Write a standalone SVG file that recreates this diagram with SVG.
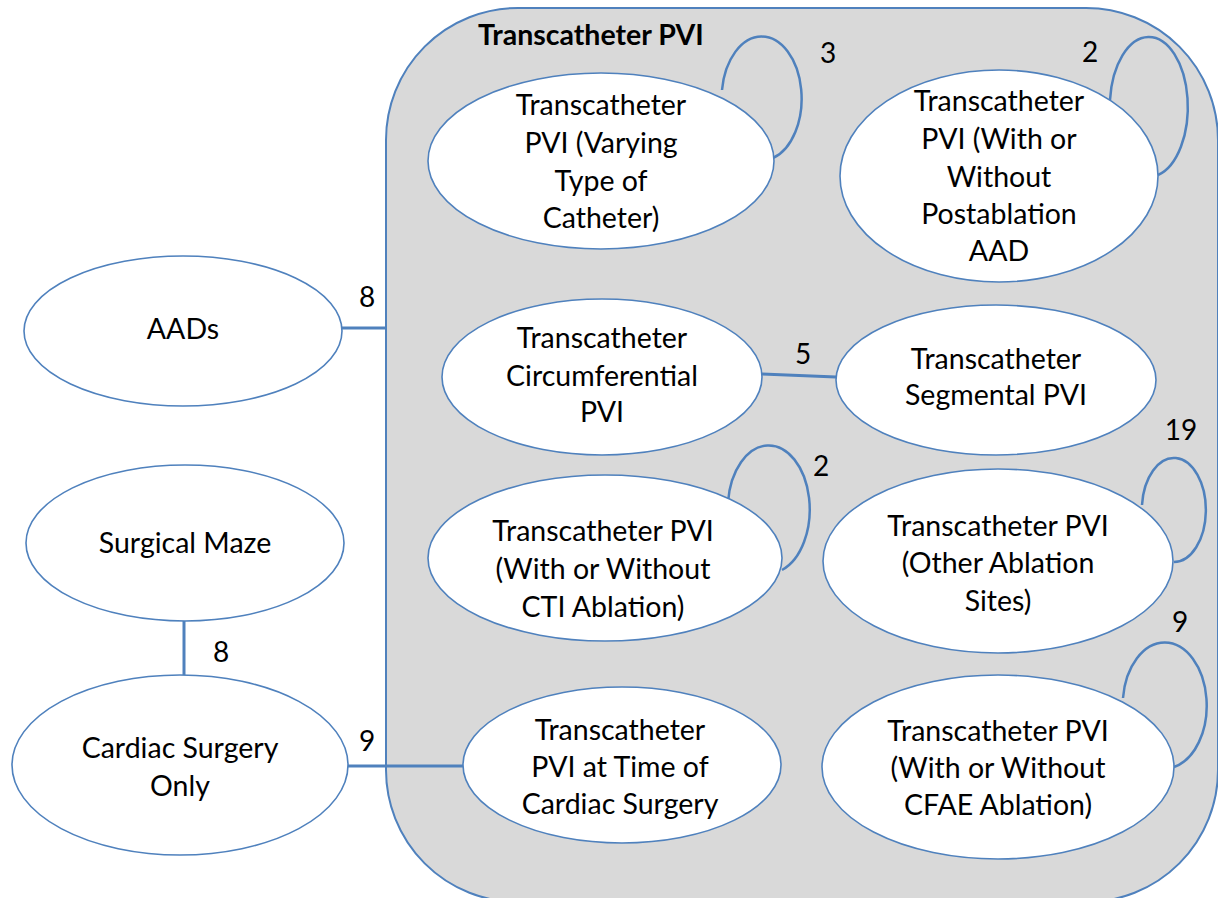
<svg xmlns="http://www.w3.org/2000/svg" width="1218" height="898" viewBox="0 0 1218 898">
<style>
.node{fill:#ffffff;stroke:#4f81bd;stroke-width:1.6}
.lbl{font-family:Lato,"Open Sans","Liberation Sans",sans-serif;font-size:28.5px;fill:#000;text-anchor:middle}
.num{font-family:Lato,"Open Sans","Liberation Sans",sans-serif;font-size:28px;fill:#000;text-anchor:middle}
.edge{fill:none;stroke:#4f81bd;stroke-width:3}
.loop{fill:none;stroke:#4f81bd;stroke-width:2.5}
</style>
<rect width="1218" height="898" fill="#ffffff"/>
<g id="group-transcatheter-pvi">
<rect x="386" y="8" width="832" height="894" rx="132" ry="132" fill="#d9d9d9" stroke="#4f81bd" stroke-width="2"/>
<text x="478" y="45" font-family="Lato,'Open Sans','Liberation Sans',sans-serif" font-size="28.5" font-weight="bold" fill="#000">Transcatheter PVI</text>
</g>
<g id="connectors">
<line class="edge" x1="342" y1="328" x2="387" y2="328"/>
<line class="edge" x1="184" y1="621" x2="184" y2="675"/>
<line class="edge" x1="348" y1="766" x2="463" y2="766"/>
<line class="edge" x1="762" y1="374" x2="836" y2="377"/>
<path class="loop" d="M722,90 A40,62 0 1 1 773,158"/>
<path class="loop" d="M1110,100 A39,70 0 1 1 1158,175"/>
<path class="loop" d="M728,502 A41,64 0 1 1 782,570"/>
<path class="loop" d="M1142,505 A32,52 0 1 1 1174,562"/>
<path class="loop" d="M1123,698 A42,63 0 1 1 1174,767"/>
<text class="num" x="367" y="307">8</text>
<text class="num" x="221" y="662">8</text>
<text class="num" x="367" y="751">9</text>
<text class="num" x="803" y="364">5</text>
<text class="num" x="828" y="63">3</text>
<text class="num" x="1090" y="62">2</text>
<text class="num" x="821" y="476">2</text>
<text class="num" x="1181" y="440">19</text>
<text class="num" x="1180" y="632">9</text>
</g>
<g id="node-aads">
<ellipse class="node" cx="183" cy="331" rx="159" ry="75"/>
<text class="lbl" x="183" y="339">AADs</text>
</g>
<g id="node-surgical-maze">
<ellipse class="node" cx="185" cy="543" rx="159" ry="78"/>
<text class="lbl" x="185" y="553">Surgical Maze</text>
</g>
<g id="node-cardiac-surgery-only">
<ellipse class="node" cx="180" cy="765" rx="168" ry="90"/>
<text class="lbl" x="180" y="758">Cardiac Surgery</text>
<text class="lbl" x="180" y="796">Only</text>
</g>
<g id="node-varying">
<ellipse class="node" cx="601" cy="161" rx="173" ry="88"/>
<text class="lbl" x="601" y="115">Transcatheter</text>
<text class="lbl" x="601" y="153">PVI (Varying</text>
<text class="lbl" x="601" y="191">Type of</text>
<text class="lbl" x="601" y="228">Catheter)</text>
</g>
<g id="node-postablation">
<ellipse class="node" cx="999" cy="176" rx="159" ry="106"/>
<text class="lbl" x="999" y="111">Transcatheter</text>
<text class="lbl" x="999" y="149">PVI (With or</text>
<text class="lbl" x="999" y="187">Without</text>
<text class="lbl" x="999" y="224">Postablation</text>
<text class="lbl" x="999" y="261">AAD</text>
</g>
<g id="node-circumferential">
<ellipse class="node" cx="602" cy="377" rx="160" ry="78"/>
<text class="lbl" x="602" y="348">Transcatheter</text>
<text class="lbl" x="602" y="386">Circumferential</text>
<text class="lbl" x="602" y="422">PVI</text>
</g>
<g id="node-segmental">
<ellipse class="node" cx="996" cy="380" rx="160" ry="75"/>
<text class="lbl" x="996" y="369">Transcatheter</text>
<text class="lbl" x="996" y="405">Segmental PVI</text>
</g>
<g id="node-cti">
<ellipse class="node" cx="605" cy="558" rx="177" ry="83"/>
<text class="lbl" x="603" y="541">Transcatheter PVI</text>
<text class="lbl" x="603" y="579">(With or Without</text>
<text class="lbl" x="603" y="617">CTI Ablation)</text>
</g>
<g id="node-other-sites">
<ellipse class="node" cx="998" cy="561" rx="175" ry="92"/>
<text class="lbl" x="998" y="536">Transcatheter PVI</text>
<text class="lbl" x="998" y="573">(Other Ablation</text>
<text class="lbl" x="998" y="611">Sites)</text>
</g>
<g id="node-cfae">
<ellipse class="node" cx="998" cy="767" rx="176" ry="92"/>
<text class="lbl" x="998" y="741">Transcatheter PVI</text>
<text class="lbl" x="998" y="778">(With or Without</text>
<text class="lbl" x="998" y="815">CFAE Ablation)</text>
</g>
<g id="node-cardiac-surgery-pvi">
<ellipse class="node" cx="622" cy="765" rx="159" ry="78"/>
<text class="lbl" x="620" y="740">Transcatheter</text>
<text class="lbl" x="620" y="777">PVI at Time of</text>
<text class="lbl" x="620" y="814">Cardiac Surgery</text>
</g>
</svg>
